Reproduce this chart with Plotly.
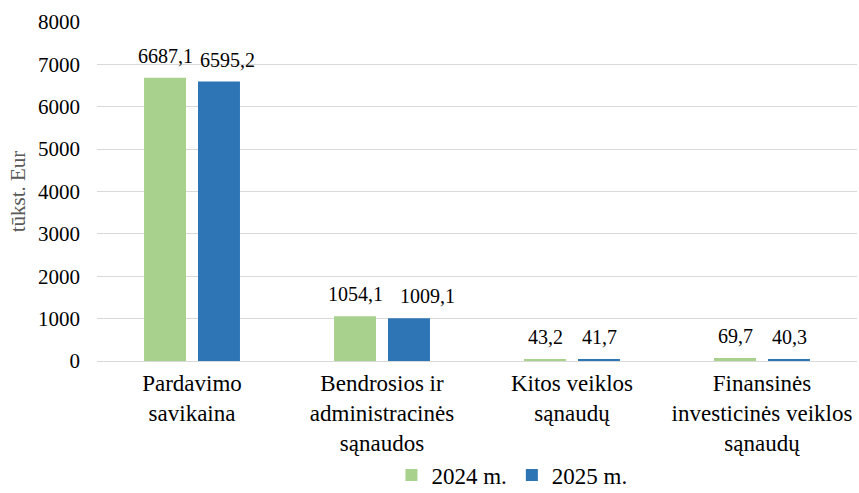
import plotly.graph_objects as go

categories = ["Pardavimo<br>savikaina", "Bendrosios ir<br>administracinės<br>sąnaudos",
              "Kitos veiklos<br>sąnaudų", "Finansinės<br>investicinės veiklos<br>sąnaudų"]
values_2024 = [6687.1, 1054.1, 43.2, 69.7]
values_2025 = [6595.2, 1009.1, 41.7, 40.3]
series_names = ["2024 m.", "2025 m."]
y_ticks = [0, 1000, 2000, 3000, 4000, 5000, 6000, 7000, 8000]

# label placement style (pixel nudges, as Excel shifted overlapping labels)
label_nudge_2024 = [0, 0, 0, 0]
label_nudge_2025 = [8, 18, 0, 0]

def fmt(v):
    return f"{v:.1f}".replace(".", ",")

FONT = "Times New Roman"
BAR_OFFSET = 27  # half spacing between the two bars of a group, px

fig = go.Figure()
for vals, name, col in [(values_2024, series_names[0], "#a9d18e"),
                        (values_2025, series_names[1], "#2e75b6")]:
    fig.add_trace(go.Bar(x=categories, y=vals, name=name, marker_color=col,
                         hoverinfo="x+y"))

annotations = []
for vals, nudges, sign in [(values_2024, label_nudge_2024, -1),
                           (values_2025, label_nudge_2025, 1)]:
    for c, v, n in zip(categories, vals, nudges):
        annotations.append(dict(x=c, y=v, xref="x", yref="y", text=fmt(v),
                                showarrow=False, yanchor="bottom",
                                xshift=sign * BAR_OFFSET + n, yshift=9,
                                font=dict(family=FONT, size=20, color="#000")))

fig.update_layout(
    template="none",
    width=859, height=493,
    margin=dict(l=97, r=2, t=22, b=132, autoexpand=False),
    barmode="group", bargap=0.432, bargroupgap=0.222,
    plot_bgcolor="white", paper_bgcolor="white",
    font=dict(family=FONT, size=20, color="#000"),
    annotations=annotations,
    legend=dict(orientation="h", xref="container", yref="paper",
                x=0.596, xanchor="center", y=-0.400, yanchor="bottom",
                bgcolor="rgba(0,0,0,0)",
                font=dict(family=FONT, size=23, color="#000"),
                traceorder="normal"),
    xaxis=dict(tickfont=dict(family=FONT, size=23, color="#000"), showline=False,
               ticks="", automargin=False, showgrid=False, ticklabelstandoff=6),
    yaxis=dict(range=[0, 8000], tickvals=y_ticks, showgrid=True, gridcolor="#d9d9d9",
               gridwidth=1, zeroline=True, zerolinecolor="#d9d9d9", zerolinewidth=1,
               showline=False, ticklabelstandoff=16,
               tickfont=dict(family=FONT, size=21, color="#000"), ticks="",
               automargin=False,
               title=dict(text="tūkst. Eur", font=dict(family=FONT, size=21, color="#595959"),
                          standoff=6)),
)
fig.write_html("out.html", post_script="document.body.style.margin='0';",
               config={"displayModeBar": False})
